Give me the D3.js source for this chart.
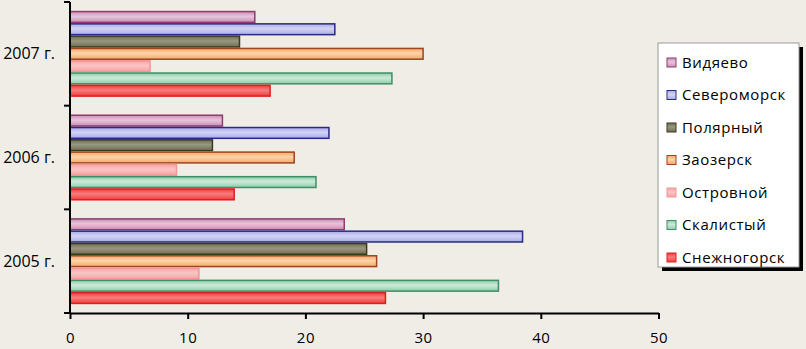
<!DOCTYPE html>
<html>
<head>
<meta charset="utf-8">
<script src="https://cdn.jsdelivr.net/npm/d3@7"></script>
<style>
    body { margin: 0; background: #f0ece6; }
    svg { display: block; }
    text { font-family: "Open Sans", "Noto Sans", sans-serif; fill: #000; }
</style>
</head>
<body>
<svg id="chart"></svg>
<script>
// годы (снизу вверх на графике: 2005, 2006, 2007)
const years = ['2007 г.', '2006 г.', '2005 г.'];
const towns = ['Видяево', 'Североморск', 'Полярный', 'Заозерск', 'Островной', 'Скалистый', 'Снежногорск'];

// значения по городам, порядок как в years
const vidyaevo     = [15.7, 12.95, 23.3];
const severomorsk  = [22.5, 22.0, 38.45];
const polyarny     = [14.4, 12.1, 25.2];
const zaozersk     = [30.0, 19.05, 26.05];
const ostrovnoy    = [6.8, 9.05, 10.95];
const skalisty     = [27.35, 20.9, 36.4];
const snezhnogorsk = [17.0, 13.95, 26.8];

const xTicks = [0, 10, 20, 30, 40, 50];

// цвета: заливка, светлая полоса, рамка
const fills   = ['#c98fb4', '#a9a9e6', '#6e6e55', '#f3a86c', '#f6a3a3', '#8fcca8', '#ee3d3d'];
const lights  = ['#e8c4da', '#d4d4f6', '#98987e', '#fcd4a8', '#fcc4c4', '#cdeadb', '#f87c7c'];
const strokes = ['#8c3d6e', '#2b2b84', '#3a3a22', '#a2431f', '#f29595', '#3f8f68', '#e01e1e'];

const series = [vidyaevo, severomorsk, polyarny, zaozersk, ostrovnoy, skalisty, snezhnogorsk];

const data = [];
years.forEach((y, i) => {
    towns.forEach((t, j) => {
        data.push({ year: y, town: t, value: series[j][i], idx: j });
    });
});

const W = 806, H = 349;
const margin = { top: 2, left: 70, right: 148, bottom: 36 };
const innerW = 658.5 - margin.left;
const innerH = 313 - margin.top;

const svg = d3.select('#chart').attr('width', W).attr('height', H);

const defs = svg.append('defs');
towns.forEach((t, j) => {
    const g = defs.append('linearGradient')
        .attr('id', 'grad' + j)
        .attr('x1', 0).attr('y1', 0).attr('x2', 0).attr('y2', 1);
    g.append('stop').attr('offset', '0%').attr('stop-color', fills[j]);
    g.append('stop').attr('offset', '45%').attr('stop-color', lights[j]);
    g.append('stop').attr('offset', '100%').attr('stop-color', fills[j]);
});

const g = svg.append('g').attr('transform', `translate(${margin.left},${margin.top})`);

const x = d3.scaleLinear().domain([0, 50]).range([0, innerW]);
const y0 = d3.scaleBand().domain(years).range([0, innerH]).paddingInner(0.17).paddingOuter(0.085);
const y1 = d3.scaleBand().domain(towns).range([0, y0.bandwidth()]);

// бары
g.selectAll('.bar')
    .data(data)
    .join('rect')
    .attr('class', 'bar')
    .attr('x', x(0))
    .attr('y', d => y0(d.year) + y1(d.town) + 0.75)
    .attr('width', d => x(d.value) - x(0))
    .attr('height', y1.bandwidth() - 1.5)
    .attr('fill', d => `url(#grad${d.idx})`)
    .attr('stroke', d => strokes[d.idx])
    .attr('stroke-width', 1.5);

// ось X
const xAxis = g.append('g')
    .attr('transform', `translate(0,${innerH})`)
    .call(d3.axisBottom(x).tickValues(xTicks).tickSize(6).tickSizeOuter(0).tickPadding(13));
xAxis.select('.domain').attr('stroke', '#000').attr('stroke-width', 2);
xAxis.selectAll('.tick line').attr('stroke', '#000').attr('stroke-width', 2);
xAxis.selectAll('.tick text').style('font-size', '15px').style('letter-spacing', '0.5px');

// ось Y: засечки по границам категорий
const yBounds = [0, innerH / 3, 2 * innerH / 3, innerH];
const yAxis = g.append('g');
yAxis.append('line')
    .attr('x1', 0).attr('x2', 0)
    .attr('y1', 0).attr('y2', innerH + 1)
    .attr('stroke', '#000').attr('stroke-width', 2);
yAxis.selectAll('.ytick')
    .data(yBounds)
    .join('line')
    .attr('x1', -6).attr('x2', 0)
    .attr('y1', d => d).attr('y2', d => d)
    .attr('stroke', '#000').attr('stroke-width', 2);
yAxis.selectAll('.ylabel')
    .data(years)
    .join('text')
    .attr('x', -15)
    .attr('y', d => y0(d) + y0.bandwidth() / 2)
    .attr('dy', '0.35em')
    .attr('text-anchor', 'end')
    .style('font-size', '16px')
    .text(d => d);

// легенда
const lg = svg.append('g').attr('transform', 'translate(658,43)');
lg.append('rect')
    .attr('x', 4).attr('y', 4).attr('width', 141).attr('height', 224)
    .attr('fill', '#000');
lg.append('rect')
    .attr('x', 0).attr('y', 0).attr('width', 141).attr('height', 224)
    .attr('fill', '#fff').attr('stroke', '#999').attr('stroke-width', 1);

const item = lg.selectAll('.item')
    .data(towns)
    .join('g')
    .attr('transform', (d, i) => `translate(0,${19.5 + i * 32.5})`);
item.append('rect')
    .attr('x', 9).attr('y', -4.5).attr('width', 9).attr('height', 9)
    .attr('fill', (d, i) => `url(#grad${i})`)
    .attr('stroke', (d, i) => strokes[i]).attr('stroke-width', 1);
item.append('text')
    .attr('x', 24).attr('dy', '0.35em')
    .style('font-size', '15px')
    .style('letter-spacing', '0.6px')
    .text(d => d);
</script>
</body>
</html>
